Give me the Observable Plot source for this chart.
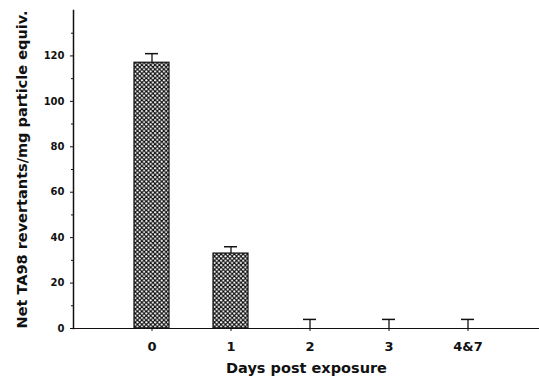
<!DOCTYPE html>
<html>
<head>
<meta charset="utf-8">
<script src="https://cdn.jsdelivr.net/npm/d3@7"></script>
<script src="https://cdn.jsdelivr.net/npm/@observablehq/plot@0.6"></script>
<style>
  html, body { margin: 0; padding: 0; background: #fff; }
  svg { display: block; }
</style>
</head>
<body>
<div id="chart"></div>
<script>
const days = ["0", "1", "2", "3", "4&7"];
const revertants = [117, 33, 0, 0, 0];
const errors = [4, 3, 4, 4, 4];
const yTicks = [0, 20, 40, 60, 80, 100, 120];
const yMinorTicks = [10, 30, 50, 70, 90, 110, 130];

const data = days.map((d, i) => ({day: d, value: revertants[i], err: errors[i]}));

const font = "'DejaVu Sans', sans-serif";

const hatchDefs = () => {
  const ns = "http://www.w3.org/2000/svg";
  const defs = document.createElementNS(ns, "defs");
  const pat = document.createElementNS(ns, "pattern");
  pat.setAttribute("id", "hatch");
  pat.setAttribute("patternUnits", "userSpaceOnUse");
  pat.setAttribute("width", "4.4");
  pat.setAttribute("height", "4.4");
  const bg = document.createElementNS(ns, "rect");
  bg.setAttribute("width", "4.4"); bg.setAttribute("height", "4.4"); bg.setAttribute("fill", "#111");
  pat.appendChild(bg);
  [[1.1, 1.1], [3.3, 3.3]].forEach(([cx, cy]) => {
    const c = document.createElementNS(ns, "circle");
    c.setAttribute("cx", cx); c.setAttribute("cy", cy); c.setAttribute("r", 1.05);
    c.setAttribute("fill", "#fff");
    pat.appendChild(c);
  });
  defs.appendChild(pat);
  return defs;
};

const chart = Plot.plot({
  width: 539,
  height: 378,
  marginLeft: 73,
  marginRight: 0,
  marginTop: 10,
  marginBottom: 50,
  style: {fontFamily: font, fontWeight: "bold", color: "#111", background: "#fff"},
  x: {domain: days, paddingInner: 0.56, paddingOuter: 0.71, align: 0.53, label: null},
  y: {domain: [0, 140], label: null},
  marks: [
    hatchDefs,
    Plot.barY(data, {x: "day", y: "value", fill: "url(#hatch)", stroke: "#111", strokeWidth: 1.2}),
    Plot.ruleX(data, {x: "day", y1: "value", y2: d => d.value + d.err, stroke: "#111", strokeWidth: 1.3}),
    Plot.tickY(data, {x: "day", y: d => d.value + d.err, stroke: "#111", strokeWidth: 1.5, insetLeft: 11, insetRight: 11}),
    Plot.ruleY([0], {stroke: "#111", strokeWidth: 1.2}),
    Plot.frame({anchor: "left", stroke: "#111", strokeWidth: 1.5}),
    Plot.axisY({ticks: yTicks, tickSize: 3, tickPadding: 6, fontSize: 10, label: null}),
    Plot.axisY({ticks: yMinorTicks, tickSize: 2, tickFormat: () => "", label: null}),
    Plot.axisX({tickSize: 3, tickPadding: 10, fontSize: 13, label: null}),
    Plot.text(["Days post exposure"], {frameAnchor: "bottom", dy: 44, fontSize: 14.5, fill: "#111"}),
    Plot.text(["Net TA98 revertants/mg particle equiv."], {frameAnchor: "left", textAnchor: "middle", dx: -51, rotate: -90, fontSize: 14.5, fill: "#111"})
  ]
});

document.getElementById("chart").appendChild(chart);
</script>
</body>
</html>
